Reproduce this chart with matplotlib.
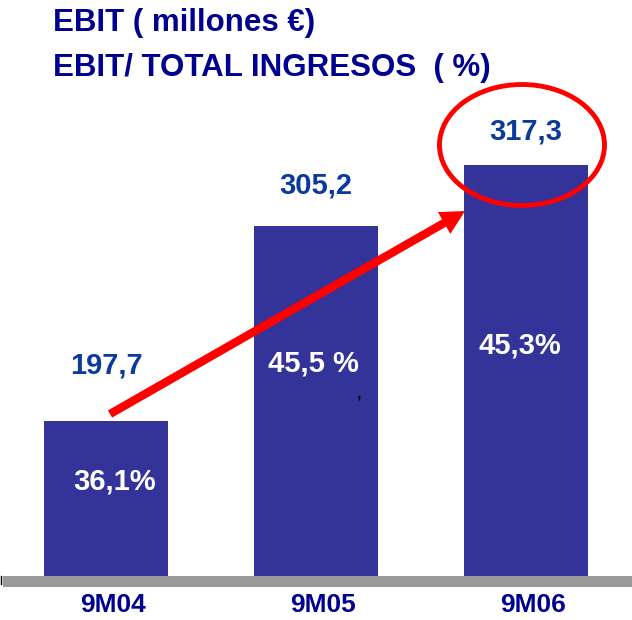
import matplotlib
matplotlib.use("Agg")
import matplotlib.pyplot as plt
from matplotlib.patches import Ellipse

plt.rcParams['font.family'] = ['Liberation Sans', 'DejaVu Sans']
plt.rcParams['font.weight'] = 'bold'

periods = ["9M04", "9M05", "9M06"]
ebit = ["197,7", "305,2", "317,3"]
margin = ["36,1%", "45,5 %", "45,3%"]
bar_heights = [155, 350, 411]   # drawn height of each bar (chart is not to scale)

bar_color = "#333399"
label_blue = "#0a3a9c"
navy = "#000090"

W, H = 632, 620
fig = plt.figure(figsize=(W / 100, H / 100), dpi=100)
# axes: bottom edge at the bottom of the grey floor line (y=587 px), top at image top
ax = fig.add_axes([0, (H - 587) / H, 1, 587 / H])
ax.set_xlim(-0.505, 2.505)
ax.set_ylim(-11, 576)
ax.axis("off")

x = list(range(len(periods)))
ax.bar(x, bar_heights, width=0.59, color=bar_color, zorder=2)

# grey floor
ax.axhspan(-11, 0, xmin=3 / W, xmax=1, color="#999999", lw=0, zorder=1)
ax.plot([-0.498, -0.498], [-8, 0], color="black", lw=1, zorder=3)

# value labels above bars
value_gap = [55, 40, 34]
for i, txt in enumerate(ebit):
    ax.text(x[i], bar_heights[i] + value_gap[i], txt, ha="center", va="center",
            fontsize=21, color=label_blue, zorder=5)

# margin labels inside bars
pct_pos = [(0.043, 94), (-0.01, 212), (-0.029, 231)]
for i, txt in enumerate(margin):
    dx, y = pct_pos[i]
    ax.text(x[i] + dx, y, txt, ha="center", va="center",
            fontsize=21, color="white", zorder=5)

ax.text(1.205, 183, ",", ha="center", va="center", fontsize=11, color="black")

# period labels under the floor
for i, p in enumerate(periods):
    ax.text(x[i] + 0.033, -29, p, ha="center", va="center",
            fontsize=19, color=navy)

# red arrow
ax.annotate("", xy=(1.71, 365), xytext=(0.019, 162),
            arrowprops=dict(arrowstyle="simple,head_width=0.6,head_length=0.58,tail_width=0.2",
                            mutation_scale=30, color="red", lw=0,
                            shrinkA=0, shrinkB=0),
            zorder=6)

# highlight ellipse around the last value
ax.add_patch(Ellipse((1.981, 431), 0.786, 121, fill=False, edgecolor="red",
                     lw=3.5, zorder=6))

fig.text(53 / W, 1 - 23 / H, "EBIT ( millones €)", ha="left", va="center",
         fontsize=22.5, color=navy)
fig.text(53 / W, 1 - 68 / H, "EBIT/ TOTAL INGRESOS  ( %)", ha="left", va="center",
         fontsize=22.5, color=navy)

fig.savefig("out.png", dpi=100, facecolor="white")
